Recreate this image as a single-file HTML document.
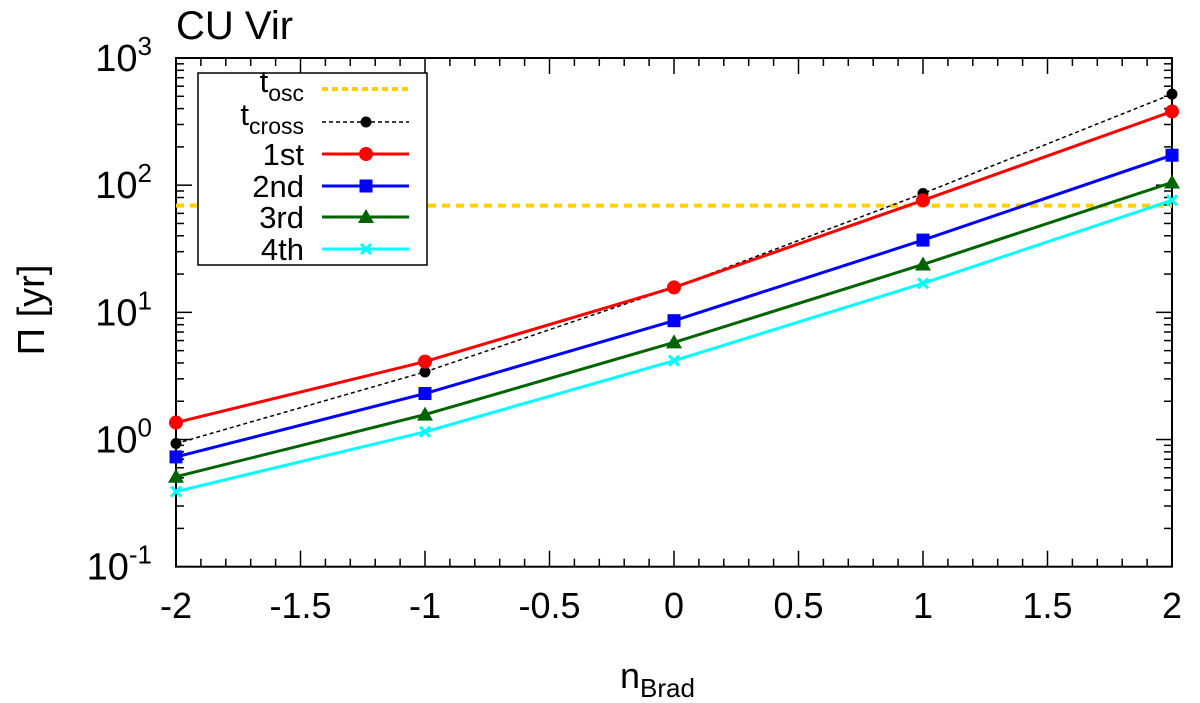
<!DOCTYPE html>
<html><head><meta charset="utf-8"><style>
body{margin:0;background:#fff;}
svg{display:block;font-family:"Liberation Sans",sans-serif;}
</style></head><body>
<svg id="chart" width="1200" height="703" viewBox="0 0 1200 703">
<text x="176" y="39" font-size="40">CU Vir</text>
<g id="axes"></g>
<g id="series"></g>
<rect x="198" y="73" width="229" height="192" fill="#fff" stroke="#000" stroke-width="1.5"/>
<g id="legend"></g>
<text transform="translate(44,310) rotate(-90)" text-anchor="middle" font-size="38">Π [yr]</text>
<text x="620" y="688" font-size="36">n<tspan font-size="26" dy="9">Brad</tspan></text>
</svg>
<script>
const xCats = [-2, -1, 0, 1, 2];
const tOsc = 69;
const tCross = [0.93, 3.4, 15.7, 86, 520];
const s1st = [1.36, 4.1, 15.7, 76, 380];
const s2nd = [0.73, 2.3, 8.6, 37, 172];
const s3rd = [0.51, 1.57, 5.8, 23.8, 105];
const s4th = [0.39, 1.15, 4.17, 16.9, 76];
const xTicks = [-2, -1.5, -1, -0.5, 0, 0.5, 1, 1.5, 2];
const yDecades = [-1, 0, 1, 2, 3];

const L=176,R=1172,T=58,B=566.7;
const NS='http://www.w3.org/2000/svg';
function X(v){return L+(v+2)/4*(R-L);}
function Y(v){return B-(Math.log10(v)+1)/4*(B-T);}
function el(t,a,p){const e=document.createElementNS(NS,t);for(const k in a)e.setAttribute(k,a[k]);p.appendChild(e);return e;}
const ax=document.getElementById('axes'), sg=document.getElementById('series'), lg=document.getElementById('legend');
const frame=el('rect',{x:L,y:T,width:R-L,height:B-T,fill:'none',stroke:'#000','stroke-width':2},ax);


for(let i=0;i<=40;i++){
  if(i%1!==0)continue;
  const v=-2+i*0.1;
  if(i%1===0 && i%5!==0 && i%1===0){ if(false){} }
  const major=i%5===0;
  if(!major && i%1===0 && (i%5)!==0 && (i%1)===0){}
  const len=major?16:8;
  if(!major && i%1===0 && false) continue;
  el('line',{x1:X(v),x2:X(v),y1:B,y2:B-len,stroke:'#000','stroke-width':1.5},ax);
  el('line',{x1:X(v),x2:X(v),y1:T,y2:T+len,stroke:'#000','stroke-width':1.5},ax);
}
xTicks.forEach(v=>{
  const t=el('text',{x:X(v),y:618,'text-anchor':'middle','font-size':36},ax);
  t.textContent=String(v);
  
  
});
yDecades.forEach(d=>{
  for(let m=1;m<=9;m++){
    if(d===3&&m>1)break;
    const v=m*Math.pow(10,d), y=Y(v), len=m===1?16:8;
    el('line',{x1:L,x2:L+len,y1:y,y2:y,stroke:'#000','stroke-width':1.5},ax);
    el('line',{x1:R,x2:R-len,y1:y,y2:y,stroke:'#000','stroke-width':1.5},ax);
  }
  const t=el('text',{x:152,y:Y(Math.pow(10,d))+13,'text-anchor':'end','font-size':38},ax);
  t.textContent='10';
  const s=el('tspan',{'font-size':26,dy:-16},t);
  s.textContent=String(d);
  
  
});
const osc=el('line',{x1:L,x2:R,y1:Y(tOsc),y2:Y(tOsc),stroke:'#ffd000','stroke-width':4,'stroke-dasharray':'8,6'},sg);


function marker(type,x,y,c,p){
  if(type==='circle')return el('circle',{cx:x,cy:y,r:7,fill:c},p);
  if(type==='dot')return el('circle',{cx:x,cy:y,r:5.5,fill:c},p);
  if(type==='square')return el('rect',{x:x-6.5,y:y-6.5,width:13,height:13,fill:c},p);
  if(type==='tri')return el('polygon',{points:`${x},${y-8} ${x-8},${y+6} ${x+8},${y+6}`,fill:c},p);
  const g=el('g',{},p);
  el('line',{x1:x-5,y1:y-5,x2:x+5,y2:y+5,stroke:c,'stroke-width':3},g);
  el('line',{x1:x-5,y1:y+5,x2:x+5,y2:y-5,stroke:c,'stroke-width':3},g);
  return g;
}
const series=[
  {name:'t-cross',data:tCross,c:'#000',w:1.5,dash:'4,3',m:'dot'},
  {name:'1st',data:s1st,c:'#ff0000',w:3,dash:'',m:'circle'},
  {name:'2nd',data:s2nd,c:'#0000ff',w:3,dash:'',m:'square'},
  {name:'3rd',data:s3rd,c:'#006400',w:3,dash:'',m:'tri'},
  {name:'4th',data:s4th,c:'#00ffff',w:3,dash:'',m:'x'}
];
series.forEach(s=>{
  const g=el('g',{},sg);
  
  
  const pl=el('polyline',{points:s.data.map((v,i)=>X(xCats[i])+','+Y(v)).join(' '),fill:'none',stroke:s.c,'stroke-width':s.w,'stroke-dasharray':s.dash},g);
  
  
  s.data.forEach((v,i)=>{
    const m=marker(s.m,X(xCats[i]),Y(v),s.c,g);
    
    
  });
});
const lx1=322,lx2=409,lxm=366;
const labels=[['t','osc'],['t','cross'],['1st'],['2nd'],['3rd'],['4th']];
const ly=[89,122,154,186,217,249];
labels.forEach((lab,i)=>{
  const g=el('g',{},lg);
  
  
  const t=el('text',{x:304,y:ly[i]+11,'text-anchor':'end','font-size':31},g);
  if(lab.length===2){t.textContent=lab[0];const s=el('tspan',{'font-size':23,dy:9},t);s.textContent=lab[1];t.setAttribute('y',ly[i]+3);}
  else t.textContent=lab[0];
  if(i===0){el('line',{x1:lx1,x2:lx2,y1:ly[i],y2:ly[i],stroke:'#ffd000','stroke-width':4,'stroke-dasharray':'6,4'},g);}
  else{const s=series[i-1];el('line',{x1:lx1,x2:lx2,y1:ly[i],y2:ly[i],stroke:s.c,'stroke-width':s.w,'stroke-dasharray':s.dash},g);marker(s.m,lxm,ly[i],s.c,g);}
});
</script>
</body></html>
